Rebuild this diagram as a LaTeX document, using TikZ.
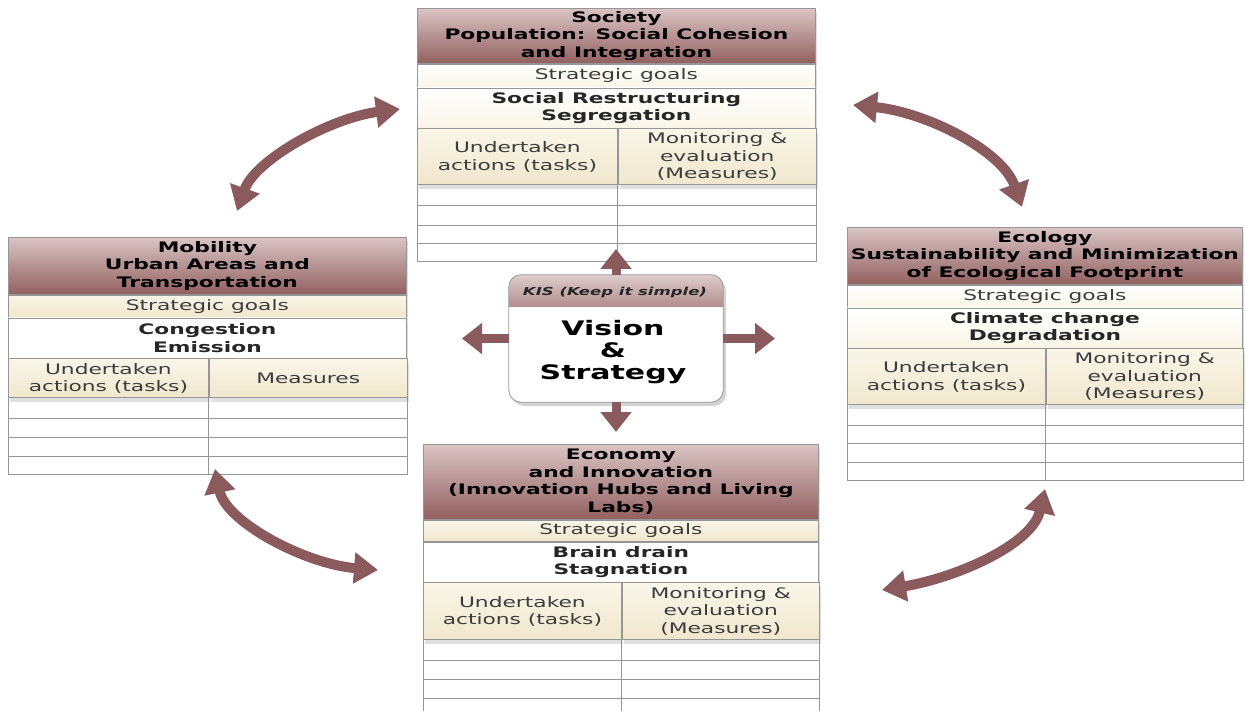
\documentclass[tikz,border=0pt]{standalone}
\usepackage{fontspec}
\setmainfont{DejaVu Sans}[FakeStretch=1.5]
\usepackage{xcolor}
\usetikzlibrary{positioning,arrows.meta,shadows}

\definecolor{arrowcol}{RGB}{139,90,92}
\definecolor{hdrtop}{RGB}{218,196,196}
\definecolor{hdrbot}{RGB}{146,96,96}
\definecolor{kistop}{RGB}{222,204,204}
\definecolor{kisbot}{RGB}{178,140,140}
\definecolor{creamtop}{RGB}{249,245,232}
\definecolor{creambot}{RGB}{240,231,205}
\definecolor{rulecol}{RGB}{150,150,150}
\definecolor{textcol}{RGB}{60,60,60}

\tikzset{
  tabrow/.style={draw=rulecol, line width=0.8pt, inner sep=0pt, align=center,
    font=\fontsize{14.5}{17.5}\selectfont,
    drop shadow={opacity=0.25, shadow xshift=2pt, shadow yshift=-4pt}},
  panelhdr/.style={tabrow, top color=hdrtop, bottom color=hdrbot,
    font=\fontsize{14.5}{17.5}\selectfont\bfseries},
  goalrow/.style={tabrow, minimum height=22pt, top color=white, bottom color=creamtop, text=textcol},
  goalcream/.style={goalrow, top color=creamtop, bottom color=creambot},
  probrow/.style={tabrow, minimum height=40pt, top color=white, bottom color=creamtop,
    font=\fontsize{14.5}{17.5}\selectfont\bfseries, text=black!85},
  probwhite/.style={probrow, top color=white, bottom color=white},
  colcell/.style={tabrow, top color=creamtop, bottom color=creambot, text=textcol},
  gridline/.style={draw=rulecol, line width=0.8pt},
  bigarrow/.style={draw=arrowcol, line width=9pt, -{Triangle[width=30pt,length=20pt]}},
  bendarrow/.style={draw=arrowcol, line width=10pt,
    {Triangle[width=30pt,length=24pt]}-{Triangle[width=30pt,length=24pt]}}
}

\begin{document}
\begin{tikzpicture}[x=1pt,y=-1pt]
\useasboundingbox (0,0) rectangle (1245,711);

% Society
\node[panelhdr, minimum width=398pt, minimum height=55pt, anchor=north west] (soc-hdr) at (417,8) {Society\\Population: Social Cohesion\\and Integration};
\node[goalrow, minimum width=398pt, minimum height=23pt, below=0pt of soc-hdr] (soc-goal) {Strategic goals};
\node[probrow, minimum width=398pt, below=0pt of soc-goal] (soc-prob) {Social Restructuring\\Segregation};
\node[colcell, minimum width=200pt, minimum height=56pt, anchor=north west] (soc-act) at (soc-prob.south west) {Undertaken\\actions (tasks)};
\node[colcell, minimum width=198pt, minimum height=56pt, right=0pt of soc-act] (soc-mon) {Monitoring \&\\evaluation\\(Measures)};
\foreach \d in {20,40,58,76}
  \draw[gridline] ([yshift=-\d pt]soc-act.south west) -- ([yshift=-\d pt]soc-mon.south east);
\draw[gridline] (soc-act.south west) -- ++(0,76) (soc-act.south east) -- ++(0,76) (soc-mon.south east) -- ++(0,76);

% Mobility
\node[panelhdr, minimum width=398pt, minimum height=57pt, anchor=north west] (mob-hdr) at (8,237) {Mobility\\Urban Areas and\\Transportation};
\node[goalcream, minimum width=398pt, below=0pt of mob-hdr] (mob-goal) {Strategic goals};
\node[probwhite, minimum width=398pt, below=0pt of mob-goal] (mob-prob) {Congestion\\Emission};
\node[colcell, minimum width=200pt, minimum height=39pt, anchor=north west] (mob-act) at (mob-prob.south west) {Undertaken\\actions (tasks)};
\node[colcell, minimum width=198pt, minimum height=39pt, right=0pt of mob-act] (mob-mes) {Measures};
\foreach \d in {20,39,58,76}
  \draw[gridline] ([yshift=-\d pt]mob-act.south west) -- ([yshift=-\d pt]mob-mes.south east);
\draw[gridline] (mob-act.south west) -- ++(0,76) (mob-act.south east) -- ++(0,76) (mob-mes.south east) -- ++(0,76);

% Ecology
\node[panelhdr, minimum width=395pt, minimum height=57pt, anchor=north west] (eco-hdr) at (847,227) {Ecology\\Sustainability and Minimization\\of Ecological Footprint};
\node[goalrow, minimum width=395pt, below=0pt of eco-hdr] (eco-goal) {Strategic goals};
\node[probrow, minimum width=395pt, below=0pt of eco-goal] (eco-prob) {Climate change\\Degradation};
\node[colcell, minimum width=198pt, minimum height=56pt, anchor=north west] (eco-act) at (eco-prob.south west) {Undertaken\\actions (tasks)};
\node[colcell, minimum width=197pt, minimum height=56pt, right=0pt of eco-act] (eco-mon) {Monitoring \&\\evaluation\\(Measures)};
\foreach \d in {20,38,57,75}
  \draw[gridline] ([yshift=-\d pt]eco-act.south west) -- ([yshift=-\d pt]eco-mon.south east);
\draw[gridline] (eco-act.south west) -- ++(0,75) (eco-act.south east) -- ++(0,75) (eco-mon.south east) -- ++(0,75);

% Economy
\node[panelhdr, minimum width=395pt, minimum height=75pt, anchor=north west] (ecn-hdr) at (423,444) {Economy\\and Innovation\\(Innovation Hubs and Living\\Labs)};
\node[goalcream, minimum width=395pt, minimum height=21pt, below=0pt of ecn-hdr] (ecn-goal) {Strategic goals};
\node[probwhite, minimum width=395pt, below=0pt of ecn-goal] (ecn-prob) {Brain drain\\Stagnation};
\node[colcell, minimum width=198pt, minimum height=57pt, anchor=north west] (ecn-act) at (ecn-prob.south west) {Undertaken\\actions (tasks)};
\node[colcell, minimum width=197pt, minimum height=57pt, right=0pt of ecn-act] (ecn-mon) {Monitoring \&\\evaluation\\(Measures)};
\foreach \d in {20,39,58}
  \draw[gridline] ([yshift=-\d pt]ecn-act.south west) -- ([yshift=-\d pt]ecn-mon.south east);
\draw[gridline] (ecn-act.south west) -- ++(0,76) (ecn-act.south east) -- ++(0,76) (ecn-mon.south east) -- ++(0,76);

% Vision & Strategy
\node[fill=white, minimum width=214pt, minimum height=127pt, rounded corners=12pt,
  drop shadow={opacity=0.35, shadow xshift=3pt, shadow yshift=-4pt}] (vision) at (616,338.5) {};
\begin{scope}
  \clip[rounded corners=12pt] (vision.north west) rectangle (vision.south east);
  \shade[top color=kistop, bottom color=kisbot] (vision.north west) rectangle ++(214,32);
\end{scope}
\draw[rulecol, line width=0.8pt, rounded corners=12pt] (vision.north west) rectangle (vision.south east);
\node[font=\fontsize{11}{13}\selectfont\bfseries\itshape, text=black!85] (kis) at (615,292) {KIS (Keep it simple)};
\node[align=center, font=\fontsize{20}{22}\selectfont\bfseries] (vtext) at (613,352) {Vision\\\&\\Strategy};

% arrows out of the centre
\coordinate (tip-n) at (616,249);
\coordinate (tip-s) at (616,432);
\coordinate (tip-w) at (462,338.5);
\coordinate (tip-e) at (775,338.5);
\draw[bigarrow] (vision.north) -- (tip-n);
\draw[bigarrow] (vision.south) -- (tip-s);
\draw[bigarrow] (vision.west) -- (tip-w);
\draw[bigarrow] (vision.east) -- (tip-e);

% curved arrows between the panels
\coordinate (tl-a) at (237,211);
\coordinate (tl-b) at (400,109);
\coordinate (tr-a) at (853,105);
\coordinate (tr-b) at (1022,207);
\coordinate (bl-a) at (215,469);
\coordinate (bl-b) at (378,570);
\coordinate (br-a) at (882,590);
\coordinate (br-b) at (1045,489);
\draw[bendarrow] (tl-a) .. controls (255,160) and (330,118) .. (tl-b);
\draw[bendarrow] (tr-a) .. controls (925,112) and (1002,150) .. (tr-b);
\draw[bendarrow] (bl-a) .. controls (226,522) and (305,564) .. (bl-b);
\draw[bendarrow] (br-a) .. controls (955,578) and (1032,545) .. (br-b);
\end{tikzpicture}
\end{document}
